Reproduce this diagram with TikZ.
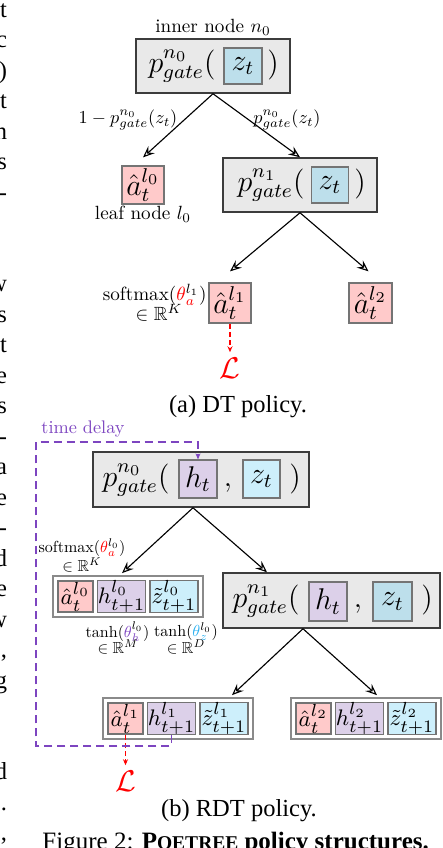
\documentclass[tikz,border=0pt]{standalone}
\usepackage{amsmath,amssymb}
\usepackage{graphicx}
\usepackage{fontspec}
\newfontfamily\capfont{Liberation Serif}
\usetikzlibrary{arrows.meta,calc}
\definecolor{gfill}{HTML}{E9E9E9}
\definecolor{gdraw}{HTML}{3C3C3C}
\definecolor{idraw}{HTML}{747474}
\definecolor{grpdraw}{HTML}{8A8A8A}
\definecolor{zA}{HTML}{BDDFEB}
\definecolor{zB}{HTML}{CDEFFB}
\definecolor{pk}{HTML}{FFCACA}
\definecolor{pu}{HTML}{DCD0E9}
\definecolor{tdel}{HTML}{7D45C0}
\definecolor{thz}{HTML}{2AB0F0}
\newcommand\Sa[1]{\scalebox{0.765}{#1}}
\newcommand\Sb[1]{\scalebox{0.64}{#1}}
\newcommand\Se[1]{\scalebox{0.73}{#1}}
\newcommand\mygroup[4]{%
  \node[grpbox] (#1) at (#2,#3) {};
  \node[ibox={35}{31}{pk},midm] (#1a) at ({#2-52.5},#3) {$\hat a_t^{l_{#4}}$};
  \node[ibox={48}{31}{pu},midm] (#1h) at ({#2-6.5},#3) {$h_{t+1}^{l_{#4}}$};
  \node[ibox={48}{31}{zB},midm] (#1z) at ({#2+46},#3) {$\tilde z_{t+1}^{l_{#4}}$};
}
\begin{document}
\begin{tikzpicture}[x=0.4pt,y=-0.4pt,
  lbl/.style={font=\fontsize{10}{12}\selectfont, inner sep=0pt},
  bigm/.style={font=\fontsize{12}{14}\selectfont},
  midm/.style={font=\fontsize{9.5}{11}\selectfont},
  capf/.style={font=\capfont\fontsize{9.8}{12}\selectfont, inner sep=0pt},
  outerbox/.style 2 args={draw=gdraw, fill=gfill, line width=0.6pt,
    minimum width=#1*0.4pt, minimum height=#2*0.4pt, inner sep=0pt},
  ibox/.style n args={3}{draw=idraw, fill=#3, line width=0.5pt,
    minimum width=#1*0.4pt, minimum height=#2*0.4pt, inner sep=0pt},
  grpbox/.style={draw=grpdraw, fill=white, line width=0.7pt,
    minimum width=150*0.4pt, minimum height=41*0.4pt, inner sep=0pt},
  tarrow/.style={line width=0.45pt, -{Stealth[open,length=4.6pt,width=3.8pt,inset=1.7pt]}},
  rarrow/.style={red, line width=0.5pt, dash pattern=on 2pt off 1.3pt,
    -{Stealth[length=2.4pt,width=2pt]}, shorten >=2pt},
  tdarrow/.style={tdel, line width=0.55pt, dash pattern=on 3.2pt off 2pt,
    -{Stealth[length=2.4pt,width=2pt]}},
]
\useasboundingbox (0,0) rectangle (442,848);

% margin fragments of the page text
\foreach \i/\c in {0/t,1/c,2/),3/t,4/n,5/s,6/-,9/w,10/s,11/t,12/e,13/s,14/-,15/a,16/e,17/-,18/d,19/e,20/w,21/{,},22/g,25/d,26/.,27/{,}}
  \node[capf, anchor=mid east] (m\i) at (7.5,{12+30.5*\i}) {\c};

% ---------------- (a) DT policy ----------------
\node[lbl] (inA) at (213,27) {\Sa{inner node $n_0$}};
\node[outerbox={154}{54}] (n0a) at (213,66) {};
\node[bigm, anchor=base west, inner sep=0pt] (p0a) at (148,72) {$p^{n_0}_{gate}($};
\node[ibox={38}{36}{zA}, bigm] (z0a) at (243,66) {$z_t$};
\node[bigm, anchor=base, inner sep=0pt] (c0a) at (273,72) {$)$};

\node[lbl] (e0l) at (128,120) {\Se{$1-p^{n_0}_{gate}(z_t)$}};
\node[lbl] (e0r) at (287,120) {\Se{$p^{n_0}_{gate}(z_t)$}};

\node[ibox={42}{38}{pk}, bigm] (l0a) at (143,185) {$\hat a_t^{l_0}$};
\node[lbl] (lfA) at (143,214) {\Sa{leaf node $l_0$}};

\node[outerbox={154}{54}] (n1a) at (300,185) {};
\node[bigm, anchor=base west, inner sep=0pt] (p1a) at (237,191) {$p^{n_1}_{gate}($};
\node[ibox={37}{36}{zA}, bigm] (z1a) at (330,185) {$z_t$};
\node[bigm, anchor=base, inner sep=0pt] (c1a) at (360,191) {$)$};

\node[ibox={42}{40}{pk}, bigm] (l1a) at (230,303) {$\hat a_t^{l_1}$};
\node[ibox={43}{40}{pk}, bigm] (l2a) at (370.5,303) {$\hat a_t^{l_2}$};
\node[lbl, anchor=east] (smA) at (207,295) {\Sa{softmax(${\color{red}\theta}^{l_1}_{\color{red}a}$)}};
\node[lbl] (rkA) at (159,313) {\Sa{$\in\mathbb{R}^K$}};
\node[bigm, text=red, inner sep=0pt] (La) at (230,368) {$\mathcal{L}$};

\draw[tarrow] (n0a.south) -- ($(l0a.north)+(0,-8)$);
\draw[tarrow] (n0a.south) -- (n1a.north);
\draw[tarrow] (n1a.south) -- ($(l1a.north)+(0,-11)$);
\draw[tarrow] (n1a.south) -- ($(l2a.north)+(-2,-11)$);
\draw[rarrow] (l1a.south) -- (La.north);

\node[capf, anchor=base] (capA) at (238,412) {(a) DT policy.};

% ---------------- (b) RDT policy ----------------
\node[lbl, text=tdel] (tdl) at (83,429) {\Se{time delay}};

\node[outerbox={216}{55}] (n0b) at (201,479.5) {};
\node[bigm, anchor=base west, inner sep=0pt] (p0b) at (102,486) {$p^{n_0}_{gate}($};
\node[ibox={38}{38}{pu}, bigm] (hb0) at (198,479) {$h_t$};
\node[bigm, anchor=base, inner sep=0pt] (k0b) at (228,486) {$,$};
\node[ibox={37}{38}{zB}, bigm] (zb0) at (261.5,479) {$z_t$};
\node[bigm, anchor=base, inner sep=0pt] (c0b) at (295,486) {$)$};

\node[outerbox={217}{55}] (n1b) at (331.5,600.5) {};
\node[bigm, anchor=base west, inner sep=0pt] (p1b) at (232,607) {$p^{n_1}_{gate}($};
\node[ibox={38}{39}{pu}, bigm] (hb1) at (328,601.5) {$h_t$};
\node[bigm, anchor=base, inner sep=0pt] (k1b) at (358,607) {$,$};
\node[ibox={39}{39}{zA}, bigm] (zb1) at (392.5,601.5) {$z_t$};
\node[bigm, anchor=base, inner sep=0pt] (c1b) at (427,607) {$)$};

\mygroup{g0}{128}{596.5}{0}
\mygroup{g1}{178}{718.5}{1}
\mygroup{g2}{366}{718.5}{2}

\node[lbl] (smB) at (82,548) {\Sb{softmax(${\color{red}\theta}^{l_0}_{\color{red}a}$)}};
\node[lbl] (rkB) at (82,565) {\Sb{$\in\mathbb{R}^K$}};
\node[lbl] (thB) at (117.5,632) {\Sb{tanh(${\color{tdel}\theta}^{l_0}_{\color{tdel}h}$)}};
\node[lbl] (rmB) at (118,647) {\Sb{$\in\mathbb{R}^M$}};
\node[lbl] (tzB) at (186,632) {\Sb{tanh(${\color{thz}\theta}^{l_0}_{\color{thz}z}$)}};
\node[lbl] (rdB) at (186,647) {\Sb{$\in\mathbb{R}^D$}};

\draw[tarrow] ($(n0b.south)+(-8,0)$) -- ($(g0.north)+(-6,-2)$);
\draw[tarrow] ($(n0b.south)+(-8,0)$) -- ($(n1b.north)+(-64.5,0)$);
\draw[tarrow] ($(n1b.south)+(-28.5,0)$) -- ($(g1.north)+(54,-2)$);
\draw[tarrow] ($(n1b.south)+(-28.5,0)$) -- ($(g2.north)+(11,-2)$);

\node[bigm, text=red, inner sep=0pt] (Lb) at (125.5,781) {$\mathcal{L}$};
\draw[rarrow] (g1a.south) -- (Lb.north);

\coordinate (tdA) at (36,746);
\coordinate (tdB) at (36,442);
\draw[tdarrow] (g1h.south) |- (tdA) -- (tdB) -| (hb0.north);

\node[capf, anchor=base] (capB) at (239,816) {(b) RDT policy.};
\node[capf, anchor=base west, font=\capfont\fontsize{10}{12}\selectfont] (fig) at (42,849)
  {Figure 2: \textbf{P{\fontsize{7.8}{9}\selectfont OETREE} policy structures.}};
\end{tikzpicture}
\end{document}
